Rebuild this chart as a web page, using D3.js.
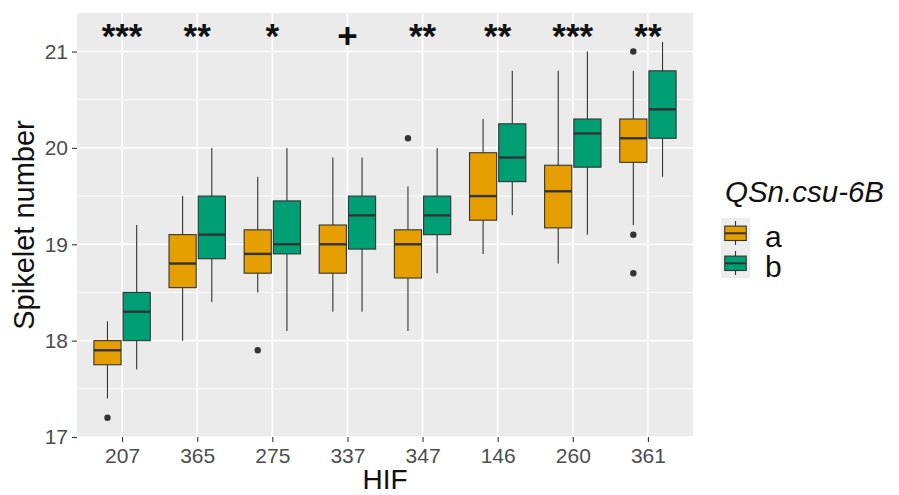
<!DOCTYPE html>
<html><head><meta charset="utf-8">
<script src="https://cdn.jsdelivr.net/npm/d3@7"></script>
<style>body{margin:0;background:#fff}svg{display:block}text{font-family:"Liberation Sans",Arial,sans-serif}</style>
</head><body>
<svg id="c" width="899" height="495"></svg>
<script>
const categories = ["207","365","275","337","347","146","260","361"];
const groups = ["a","b"];
const groupColors = ["#E69F00","#009E73"];
const sig = ["***","**","*","+","**","**","***","**"];
const yTicks = [17,18,19,20,21];
const yMinor = [17.5,18.5,19.5,20.5,21.5];

// group a
const aLow  = [17.4, 18.0, 18.5, 18.3, 18.1, 18.9, 18.8, 19.2];
const aQ1   = [17.75,18.55,18.7, 18.7, 18.65,19.25,19.17,19.85];
const aMed  = [17.9, 18.8, 18.9, 19.0, 19.0, 19.5, 19.55,20.1];
const aQ3   = [18.0, 19.1, 19.15,19.2, 19.15,19.95,19.82,20.3];
const aHigh = [18.2, 19.5, 19.7, 19.9, 19.6, 20.3, 20.8, 20.8];
const aOut  = [[17.2],[],[17.9],[],[20.1],[],[],[21.0,19.1,18.7]];
// group b
const bLow  = [17.7, 18.4, 18.1, 18.3, 18.7, 19.3, 19.1, 19.7];
const bQ1   = [18.0, 18.85,18.9, 18.95,19.1, 19.65,19.8, 20.1];
const bMed  = [18.3, 19.1, 19.0, 19.3, 19.3, 19.9, 20.15,20.4];
const bQ3   = [18.5, 19.5, 19.45,19.5, 19.5, 20.25,20.3, 20.8];
const bHigh = [19.2, 20.0, 20.0, 19.9, 20.0, 20.8, 21.0, 21.1];
const bOut  = [[],[],[],[],[],[],[],[]];

const stats = [
  {low:aLow,q1:aQ1,med:aMed,q3:aQ3,high:aHigh,out:aOut},
  {low:bLow,q1:bQ1,med:bMed,q3:bQ3,high:bHigh,out:bOut}
];

const svg = d3.select("#c");
const P = {l:77, r:693, t:13, b:437};
const x = d3.scalePoint().domain(categories).range([P.l,P.r]).padding(0.6);
const y = d3.scaleLinear().domain([17,21.4]).range([P.b,P.t]);
const step = x.step();
const dodge = d3.scaleBand().domain(groups).range([-0.375*step,0.375*step]).paddingInner(0.07);

// panel
svg.append("rect").attr("x",P.l).attr("y",P.t).attr("width",P.r-P.l).attr("height",P.b-P.t).attr("fill","#EBEBEB");
const grid = svg.append("g");
yMinor.filter(v=>y(v)>=P.t).forEach(v=>grid.append("line").attr("x1",P.l).attr("x2",P.r).attr("y1",y(v)).attr("y2",y(v)).attr("stroke","#fff").attr("stroke-width",0.9));
yTicks.forEach(v=>grid.append("line").attr("x1",P.l).attr("x2",P.r).attr("y1",y(v)).attr("y2",y(v)).attr("stroke","#fff").attr("stroke-width",1.6));
categories.forEach(c=>grid.append("line").attr("x1",x(c)).attr("x2",x(c)).attr("y1",P.t).attr("y2",P.b).attr("stroke","#fff").attr("stroke-width",1.6));

// boxes
const ink = "#333333";
const bw = dodge.bandwidth();
groups.forEach((g,gi)=>{
  const s = stats[gi];
  const gg = svg.append("g");
  categories.forEach((c,i)=>{
    const cx = x(c) + dodge(g) + bw/2;
    gg.append("line").attr("x1",cx).attr("x2",cx).attr("y1",y(s.high[i])).attr("y2",y(s.q3[i])).attr("stroke",ink).attr("stroke-width",1.1);
    gg.append("line").attr("x1",cx).attr("x2",cx).attr("y1",y(s.q1[i])).attr("y2",y(s.low[i])).attr("stroke",ink).attr("stroke-width",1.1);
    gg.append("rect").attr("x",cx-bw/2).attr("width",bw).attr("y",y(s.q3[i])).attr("height",y(s.q1[i])-y(s.q3[i]))
      .attr("fill",groupColors[gi]).attr("stroke",ink).attr("stroke-width",1.1);
    gg.append("line").attr("x1",cx-bw/2).attr("x2",cx+bw/2).attr("y1",y(s.med[i])).attr("y2",y(s.med[i])).attr("stroke",ink).attr("stroke-width",2.4);
    s.out[i].forEach(v=>gg.append("circle").attr("cx",cx).attr("cy",y(v)).attr("r",3.2).attr("fill",ink));
  });
});

// significance labels
svg.append("g").selectAll("text").data(sig).join("text")
  .attr("x",(d,i)=>x(categories[i])).attr("y",48)
  .attr("text-anchor","middle").attr("font-size",35).attr("font-weight","bold").attr("fill","#111").text(d=>d);

// axes
const yAxis = d3.axisLeft(y).tickValues(yTicks).tickSize(5).tickPadding(4).tickFormat(d3.format("d"));
const ya = svg.append("g").attr("transform",`translate(${P.l},0)`).call(yAxis);
const xAxis = d3.axisBottom(x).tickSize(5).tickPadding(6);
const xa = svg.append("g").attr("transform",`translate(0,${P.b})`).call(xAxis);
[ya,xa].forEach(a=>{
  a.select(".domain").remove();
  a.selectAll(".tick line").attr("stroke","#333").attr("stroke-width",1.1);
  a.selectAll(".tick text").attr("fill","#4D4D4D").attr("font-size",21).attr("font-family","Liberation Sans, Arial, sans-serif");
});

// axis titles
svg.append("text").attr("transform",`translate(34,${(P.t+P.b)/2}) rotate(-90)`).attr("text-anchor","middle")
  .attr("font-size",29).attr("fill","#111").text("Spikelet number");
svg.append("text").attr("x",(P.l+P.r)/2).attr("y",489).attr("text-anchor","middle").attr("font-size",28).attr("fill","#111").text("HIF");

// legend
const L = svg.append("g");
L.append("text").attr("x",725).attr("y",202).attr("font-size",29.5).attr("font-style","italic").attr("fill","#111").text("QSn.csu-6B");
const kx = 721, ky = 218, kw = 29, kh = 30;
groups.forEach((g,gi)=>{
  const y0 = ky + gi*kh;
  L.append("rect").attr("x",kx).attr("y",y0).attr("width",kw).attr("height",kh).attr("fill","#EDEDED");
  const cx = kx+kw/2;
  L.append("line").attr("x1",cx).attr("x2",cx).attr("y1",y0+kh*0.1).attr("y2",y0+kh*0.9).attr("stroke",ink).attr("stroke-width",1.1);
  L.append("rect").attr("x",kx+kw*0.13).attr("width",kw*0.74).attr("y",y0+kh*0.27).attr("height",kh*0.48)
    .attr("fill",groupColors[gi]).attr("stroke",ink).attr("stroke-width",1.1);
  L.append("line").attr("x1",kx+kw*0.13).attr("x2",kx+kw*0.87).attr("y1",y0+kh*0.51).attr("y2",y0+kh*0.51).attr("stroke",ink).attr("stroke-width",2);
  L.append("text").attr("x",765).attr("y",y0+29).attr("font-size",30).attr("fill","#111").text(g);
});
</script>
</body></html>
